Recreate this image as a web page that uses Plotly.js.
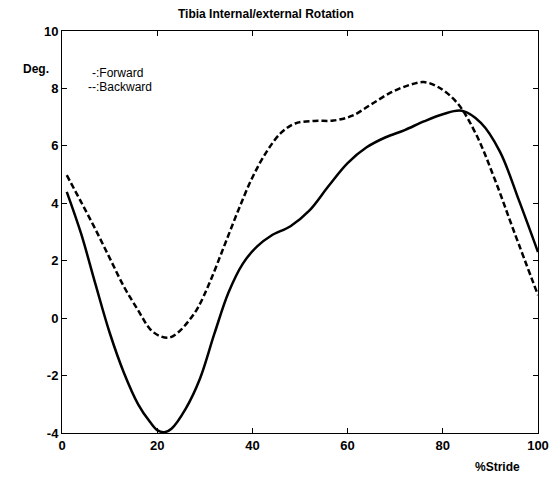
<!DOCTYPE html>
<html><head><meta charset="utf-8">
<script src="https://cdn.plot.ly/plotly-3.0.1.min.js"></script>
<style>html,body{margin:0;padding:0;background:#fff}</style>
</head><body><div id="chart" style="width:554px;height:481px"></div>
<script>
const forwardX = [1, 4, 7, 10, 13, 16, 18.5, 20, 21.5, 23, 26, 29, 32, 35, 38, 41, 44, 48, 52, 56, 60, 64, 68, 72, 76, 80, 84, 88, 92, 96, 100];
const forwardY = [4.4, 2.95, 1.2, -0.5, -1.9, -3.0, -3.62, -3.9, -3.97, -3.85, -3.15, -2.1, -0.55, 0.9, 1.9, 2.5, 2.88, 3.2, 3.75, 4.6, 5.4, 5.95, 6.3, 6.55, 6.85, 7.1, 7.22, 6.8, 5.8, 4.1, 2.3];
const backwardX = [1, 4, 7, 10, 13, 16, 18.5, 20.5, 22.5, 24.5, 26.5, 28.5, 31, 34, 37, 40, 43, 46, 49, 53, 57, 61, 65, 69, 73, 76, 79, 83, 87, 91, 95, 100];
const backwardY = [4.98, 4.05, 3.1, 2.1, 1.1, 0.27, -0.38, -0.62, -0.68, -0.48, -0.12, 0.35, 1.23, 2.48, 3.74, 4.9, 5.8, 6.45, 6.78, 6.87, 6.88, 7.05, 7.45, 7.85, 8.12, 8.22, 8.05, 7.5, 6.4, 4.8, 3.0, 0.8];
const xTicks = [0, 20, 40, 60, 80, 100];
const yTicks = [-4, -2, 0, 2, 4, 6, 8, 10];

const traces = [
  {x: forwardX, y: forwardY, mode: 'lines', line: {color: '#000', width: 2.5, shape: 'spline', smoothing: 1}, name: 'Forward'},
  {x: backwardX, y: backwardY, mode: 'lines', line: {color: '#000', width: 2.5, dash: '6px,3px', shape: 'spline', smoothing: 1}, name: 'Backward'}
];
const font = {family: 'Liberation Sans, Arial, sans-serif', color: '#000'};
const layout = {
  width: 554, height: 481,
  margin: {l: 62, r: 16, t: 31, b: 48},
  paper_bgcolor: '#fff', plot_bgcolor: '#fff',
  showlegend: false,
  font: font,
  title: {text: '<b>Tibia Internal/external Rotation</b>', font: {family: font.family, size: 12, color: '#000'}, x: 0.48, xanchor: 'center', y: 0.972, yanchor: 'middle'},
  xaxis: {range: [0, 100], tickvals: xTicks, ticktext: xTicks.map(v => '<b>' + v + '</b>'), ticks: 'inside', ticklen: 5, tickcolor: '#000', showline: true, linecolor: '#000', linewidth: 1, mirror: 'ticks', showgrid: false, zeroline: false, tickfont: {family: font.family, size: 13, color: '#000'}},
  yaxis: {range: [-4, 10], tickvals: yTicks, ticktext: yTicks.map(v => '<b>' + v + '</b>'), ticks: 'inside', ticklen: 5, tickcolor: '#000', showline: true, linecolor: '#000', linewidth: 1, mirror: 'ticks', showgrid: false, zeroline: false, tickfont: {family: font.family, size: 13, color: '#000'}},
  annotations: [
    {text: '<b>Deg.</b>', xref: 'paper', yref: 'paper', x: -0.087, y: 0.905, xanchor: 'left', yanchor: 'middle', showarrow: false, font: {family: font.family, size: 12, color: '#000'}},
    {text: '<b>%Stride</b>', xref: 'paper', yref: 'paper', x: 0.915, y: -0.085, xanchor: 'center', yanchor: 'middle', showarrow: false, font: {family: font.family, size: 12, color: '#000'}},
    {text: '-:Forward', xref: 'x', yref: 'y', x: 5.8, y: 8.55, xanchor: 'left', yanchor: 'middle', showarrow: false, font: {family: font.family, size: 12, color: '#000'}},
    {text: '--:Backward', xref: 'x', yref: 'y', x: 5.0, y: 8.05, xanchor: 'left', yanchor: 'middle', showarrow: false, font: {family: font.family, size: 12, color: '#000'}}
  ]
};
Plotly.newPlot('chart', traces, layout, {displayModeBar: false, staticPlot: true});
</script></body></html>
